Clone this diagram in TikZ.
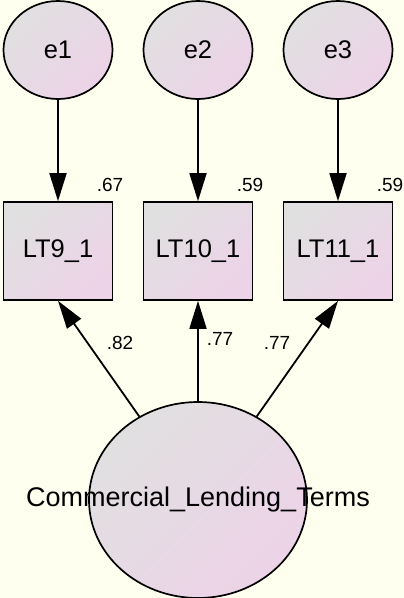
\documentclass[tikz,border=0pt]{standalone}
\usepackage{fontspec}
\setmainfont{Liberation Sans}
\usepackage{xcolor}
\usetikzlibrary{shapes,arrows,arrows.meta}

\definecolor{amosbg}{HTML}{FFFFF0}
\definecolor{amosgray}{HTML}{E0E0E0}
\definecolor{amospink}{HTML}{EDD3E8}

\begin{document}
\begin{tikzpicture}[x=1pt,y=-1pt,
    latent/.style={ellipse, draw, line width=1.7pt, inner sep=0pt, shading=axis, top color=amosgray, bottom color=amospink, shading angle=45},
    observed/.style={rectangle, draw, line width=1.7pt, inner sep=0pt, minimum width=109pt, minimum height=98pt, shading=axis, top color=amosgray, bottom color=amospink, shading angle=45, font=\fontsize{25.5}{25.5}\selectfont},
    weight/.style={font=\fontsize{19}{19}\selectfont},
    regpath/.style={line width=1.8pt, -{Triangle[length=28pt,width=17pt]}}]
  \fill[amosbg] (0,0) rectangle (404,598);
  \useasboundingbox (0,0) rectangle (404,598);

  \node[latent, minimum width=218pt, minimum height=196pt, label={[font=\fontsize{27}{27}\selectfont]center:Commercial\_Lending\_Terms}] (clt) at (198,500) {};

  \foreach \x/\err/\ind/\name/\var in {58/e1/lt9/LT9\_1/.67, 198/e2/lt10/LT10\_1/.59, 338/e3/lt11/LT11\_1/.59}{
    \node[latent, minimum width=109pt, minimum height=98pt, font=\fontsize{25.5}{25.5}\selectfont] (\err) at (\x,50) {\err};
    \node[observed] (\ind) at (\x,251) {\name};
    \node[weight] (v\ind) at (\x+52,185) {\var};
    \draw[regpath] (\err) -- (\ind);
    \draw[regpath] (clt) -- (\ind.south);
  }

  \node[weight] (w9) at (120,343) {.82};
  \node[weight] (w10) at (220,339) {.77};
  \node[weight] (w11) at (277,343) {.77};
\end{tikzpicture}
\end{document}
